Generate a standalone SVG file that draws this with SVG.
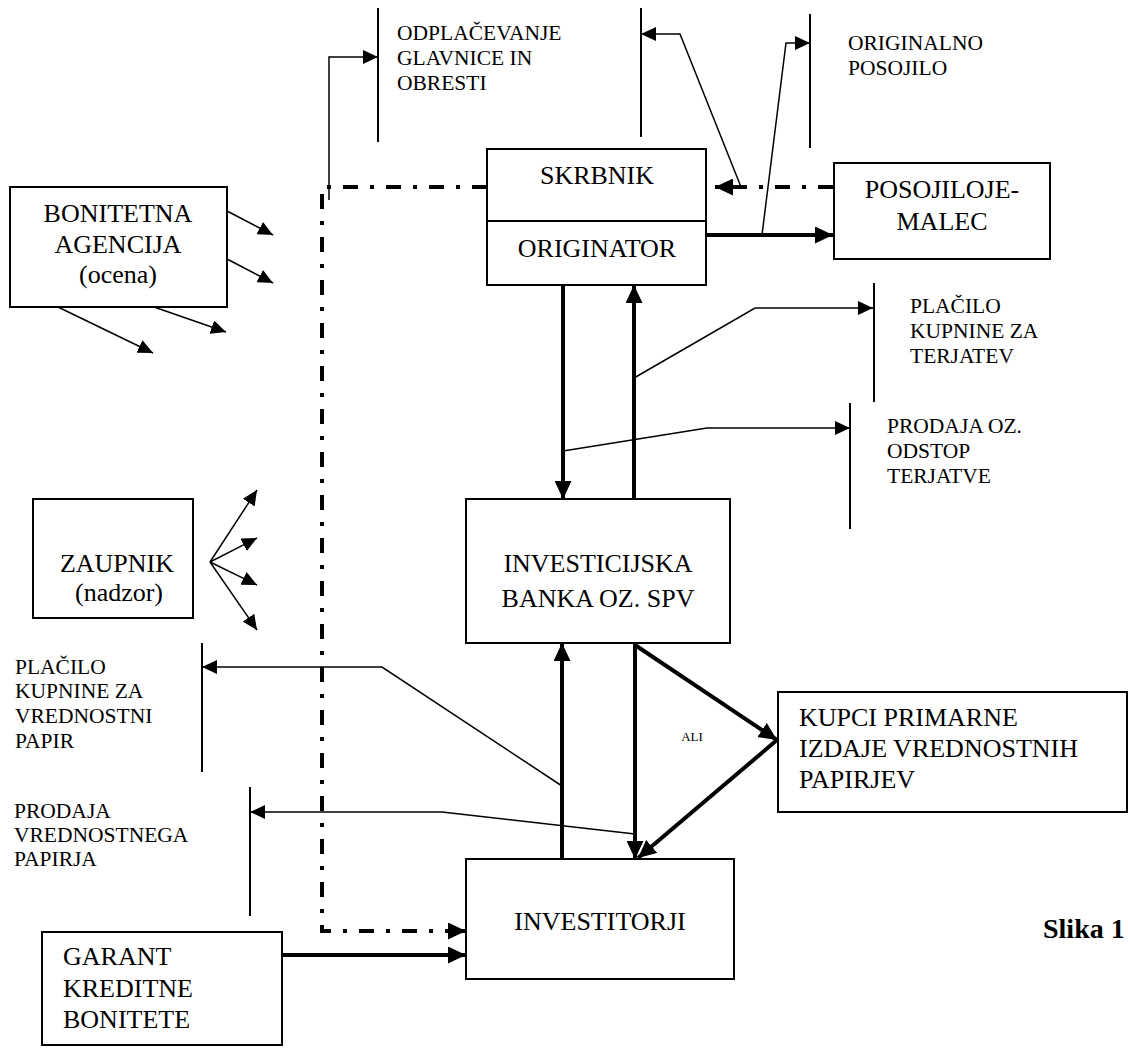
<svg xmlns="http://www.w3.org/2000/svg" width="1130" height="1048" viewBox="0 0 1130 1048">
<style>
.box{fill:#fff;stroke:#000;stroke-width:2}
text{font-family:"Liberation Serif","Times New Roman",serif;fill:#000}
.big{font-size:26px}
.sm{font-size:21.5px}
.thin{fill:none;stroke:#000;stroke-width:1.5}
.thick{fill:none;stroke:#000;stroke-width:4}
.dd{fill:none;stroke:#000;stroke-width:4;stroke-dasharray:15 12 4 12}
.bar{stroke:#000;stroke-width:2}
</style>
<defs>
<marker id="ah" markerUnits="userSpaceOnUse" markerWidth="16" markerHeight="14" refX="15" refY="7" orient="auto"><path d="M0,0 L15,7 L0,14 z" fill="#000"/></marker>
<marker id="ahb" markerUnits="userSpaceOnUse" markerWidth="19" markerHeight="17" refX="18" refY="8.5" orient="auto"><path d="M0,0 L18,8.5 L0,17 z" fill="#000"/></marker>
</defs>
<rect width="1130" height="1048" fill="#fff"/>

<g id="connectors">
  <polyline class="dd" points="487,187 322,187 322,931 450,931"/>
  <line x1="450" y1="931" x2="466" y2="931" stroke="#000" stroke-width="4" marker-end="url(#ahb)"/>
  <polyline class="dd" points="833,187 730,187"/>
  <line x1="730" y1="187" x2="715" y2="187" stroke="#000" stroke-width="4" marker-end="url(#ahb)"/>
  <line class="thick" x1="706" y1="235" x2="833" y2="235" marker-end="url(#ahb)"/>
  <line class="thick" x1="563" y1="285" x2="563" y2="499" marker-end="url(#ahb)"/>
  <line class="thick" x1="634" y1="499" x2="634" y2="285" marker-end="url(#ahb)"/>
  <line class="thick" x1="562" y1="859" x2="562" y2="643" marker-end="url(#ahb)"/>
  <line class="thick" x1="635" y1="643" x2="635" y2="859" marker-end="url(#ahb)"/>
  <line class="thick" x1="635" y1="645" x2="777" y2="740" marker-end="url(#ahb)"/>
  <line class="thick" x1="777" y1="740" x2="638" y2="858" marker-end="url(#ahb)"/>
  <line class="thick" x1="282" y1="955" x2="466" y2="955" marker-end="url(#ahb)"/>
  <polyline class="thin" points="329,200 329,57 378,57" marker-end="url(#ah)"/>
  <polyline class="thin" points="741,187 680,34 641,34" marker-end="url(#ah)"/>
  <polyline class="thin" points="762,235 786,43 810,43" marker-end="url(#ah)"/>
  <polyline class="thin" points="634,378 755,308 873,308" marker-end="url(#ah)"/>
  <polyline class="thin" points="563,451 707,428 850,428" marker-end="url(#ah)"/>
  <polyline class="thin" points="562,786 382,667 202,667" marker-end="url(#ah)"/>
  <polyline class="thin" points="635,834 442,812 250,812" marker-end="url(#ah)"/>
  <line class="thin" x1="227" y1="211" x2="273" y2="235" marker-end="url(#ah)"/>
  <line class="thin" x1="227" y1="259" x2="273" y2="283" marker-end="url(#ah)"/>
  <line class="thin" x1="154" y1="307" x2="226" y2="332" marker-end="url(#ah)"/>
  <line class="thin" x1="58" y1="307" x2="153" y2="353" marker-end="url(#ah)"/>
  <line class="thin" x1="210" y1="562" x2="257" y2="490" marker-end="url(#ah)"/>
  <line class="thin" x1="210" y1="562" x2="257" y2="538" marker-end="url(#ah)"/>
  <line class="thin" x1="210" y1="562" x2="257" y2="585" marker-end="url(#ah)"/>
  <line class="thin" x1="210" y1="562" x2="257" y2="630" marker-end="url(#ah)"/>
  <line class="bar" x1="378" y1="8" x2="378" y2="142"/>
  <line class="bar" x1="641" y1="8" x2="641" y2="137"/>
  <line class="bar" x1="810" y1="14" x2="810" y2="148"/>
  <line class="bar" x1="874" y1="283" x2="874" y2="402"/>
  <line class="bar" x1="850" y1="403" x2="850" y2="529"/>
  <line class="bar" x1="202" y1="643" x2="202" y2="772"/>
  <line class="bar" x1="250" y1="787" x2="250" y2="916"/>
</g>

<g id="labels">
  <text class="sm" x="397" y="40">ODPLAČEVANJE</text>
  <text class="sm" x="397" y="65">GLAVNICE IN</text>
  <text class="sm" x="397" y="90">OBRESTI</text>
  <text class="sm" x="848" y="50">ORIGINALNO</text>
  <text class="sm" x="848" y="75">POSOJILO</text>
  <text class="sm" x="910" y="313">PLAČILO</text>
  <text class="sm" x="910" y="338">KUPNINE ZA</text>
  <text class="sm" x="910" y="363">TERJATEV</text>
  <text class="sm" x="887" y="433">PRODAJA OZ.</text>
  <text class="sm" x="887" y="458">ODSTOP</text>
  <text class="sm" x="887" y="483">TERJATVE</text>
  <text class="sm" x="15" y="674">PLAČILO</text>
  <text class="sm" x="15" y="698">KUPNINE ZA</text>
  <text class="sm" x="15" y="723">VREDNOSTNI</text>
  <text class="sm" x="15" y="748">PAPIR</text>
  <text class="sm" x="14" y="818">PRODAJA</text>
  <text class="sm" x="14" y="842">VREDNOSTNEGA</text>
  <text class="sm" x="14" y="866">PAPIRJA</text>
  <text x="692" y="741" text-anchor="middle" font-size="13">ALI</text>
  <text x="1043" y="938" font-size="28" font-weight="bold">Slika 1</text>
</g>

<g id="skrbnik-originator">
  <rect class="box" x="487" y="149" width="219" height="136"/>
  <line class="bar" x1="487" y1="221" x2="706" y2="221"/>
  <text class="big" x="597" y="184" text-anchor="middle">SKRBNIK</text>
  <text class="big" x="597" y="257" text-anchor="middle">ORIGINATOR</text>
</g>
<g id="posojilojemalec">
  <rect class="box" x="834" y="163" width="216" height="96"/>
  <text class="big" x="942" y="198" text-anchor="middle">POSOJILOJE-</text>
  <text class="big" x="942" y="230" text-anchor="middle">MALEC</text>
</g>
<g id="bonitetna">
  <rect class="box" x="10" y="187" width="217" height="120"/>
  <text class="big" x="118" y="222" text-anchor="middle">BONITETNA</text>
  <text class="big" x="118" y="253" text-anchor="middle">AGENCIJA</text>
  <text class="big" x="118" y="283" text-anchor="middle">(ocena)</text>
</g>
<g id="zaupnik">
  <rect class="box" x="33" y="499" width="160" height="119"/>
  <text class="big" x="117" y="572" text-anchor="middle">ZAUPNIK</text>
  <text class="big" x="119" y="601" text-anchor="middle">(nadzor)</text>
</g>
<g id="investicijska">
  <rect class="box" x="466" y="499" width="264" height="144"/>
  <text class="big" x="598" y="572" text-anchor="middle">INVESTICIJSKA</text>
  <text class="big" x="598" y="607" text-anchor="middle">BANKA OZ. SPV</text>
</g>
<g id="kupci">
  <rect class="box" x="778" y="692" width="349" height="120"/>
  <text class="big" x="799" y="726">KUPCI PRIMARNE</text>
  <text class="big" x="799" y="757">IZDAJE VREDNOSTNIH</text>
  <text class="big" x="799" y="788">PAPIRJEV</text>
</g>
<g id="investitorji">
  <rect class="box" x="466" y="859" width="268" height="120"/>
  <text class="big" x="600" y="930" text-anchor="middle">INVESTITORJI</text>
</g>
<g id="garant">
  <rect class="box" x="42" y="932" width="240" height="113"/>
  <text class="big" x="63" y="965">GARANT</text>
  <text class="big" x="63" y="997">KREDITNE</text>
  <text class="big" x="63" y="1028">BONITETE</text>
</g>
</svg>
